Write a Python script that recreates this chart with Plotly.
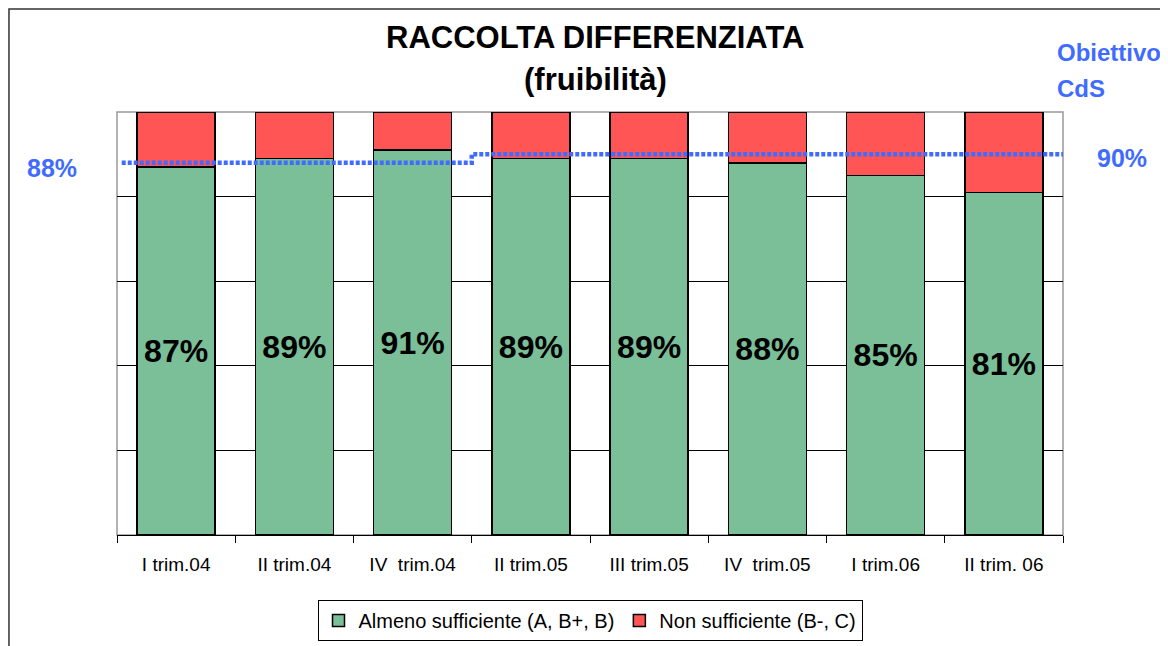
import plotly.graph_objects as go

# data
periodi = ["I trim.04", "II trim.04", "IV  trim.04", "II trim.05", "III trim.05",
           "IV  trim.05", "I trim.06", "II trim. 06"]
almeno_suff = [87, 89, 91, 89, 89, 88, 85, 81]
non_suff = [100 - v for v in almeno_suff]
obiettivo = [88, 88, 88, 90, 90, 90, 90, 90]

GREEN = "#7abf98"
RED = "#ff5555"
BLUE = "#3f6bff"

fig = go.Figure()

fig.add_trace(go.Bar(
    x=periodi, y=almeno_suff, name="Almeno sufficiente (A, B+, B)",
    marker=dict(color=GREEN, line=dict(color="black", width=1.5)),
    text=[f"{v}%" for v in almeno_suff], textposition="inside",
    insidetextanchor="middle",
    textfont=dict(family="Arial, Liberation Sans", size=32, color="black", weight="bold"),
    hoverinfo="skip",
))
fig.add_trace(go.Bar(
    x=periodi, y=non_suff, name="Non sufficiente (B-, C)",
    marker=dict(color=RED, line=dict(color="black", width=1.5)),
    hoverinfo="skip",
))

# target line (step between quarters), on an overlaid numeric axis
pos = list(range(len(obiettivo)))
fig.add_trace(go.Scatter(
    x=[-0.46] + pos + [7.53], y=[obiettivo[0]] + obiettivo + [obiettivo[-1]],
    xaxis="x2", mode="lines", line_shape="hvh",
    line=dict(color=BLUE, width=4.5, dash="4px,2px"),
    showlegend=False, cliponaxis=False, hoverinfo="skip",
))

# page body has an 8px margin, so the figure is a bit smaller than the window
fig.update_layout(
    width=1160, height=638,
    margin=dict(l=109, r=105, t=104, b=111),
    paper_bgcolor="white", plot_bgcolor="white",
    barmode="stack", bargap=0.34,
    font=dict(family="Arial, Liberation Sans", color="black"),
    xaxis=dict(
        type="category", showline=True, linecolor="black", linewidth=1,
        ticks="outside", tickson="boundaries", ticklen=7, tickcolor="black",
        tickfont=dict(size=19), ticklabelstandoff=12, showgrid=False,
        automargin=False,
    ),
    xaxis2=dict(overlaying="x", range=[-0.5, 7.5], visible=False),
    yaxis=dict(
        range=[0, 100], tickvals=[20, 40, 60, 80], showticklabels=False,
        showgrid=True, gridcolor="black", gridwidth=1, zeroline=False,
        showline=False, automargin=False,
    ),
    legend=dict(
        orientation="h", x=0.5, xanchor="center",
        yref="container", y=0.072, yanchor="top",
        bordercolor="black", borderwidth=1, font=dict(size=20),
        traceorder="normal", itemwidth=30,
    ),
    shapes=[
        dict(type="rect", xref="paper", yref="paper", x0=0, x1=1, y0=0, y1=1,
             line=dict(color="#999999", width=1.5), layer="below"),
        dict(type="rect", xref="paper", yref="paper", x0=-0.1142, x1=1.3,
             y0=-0.4, y1=1.2435, line=dict(color="#333333", width=1.5)),
    ],
    annotations=[
        dict(text="<b>RACCOLTA DIFFERENZIATA</b>", xref="paper", yref="paper",
             x=0.5055, y=1.175, xanchor="center", yanchor="middle",
             showarrow=False, font=dict(size=31, color="black")),
        dict(text="<b>(fruibilità)</b>", xref="paper", yref="paper",
             x=0.5055, y=1.0757, xanchor="center", yanchor="middle",
             showarrow=False, font=dict(size=31, color="black")),
        dict(text="<b>88%</b>", xref="paper", yref="paper", x=-0.0687, y=0.8676,
             xanchor="center", yanchor="middle", showarrow=False,
             font=dict(size=25, color=BLUE)),
        dict(text="<b>90%</b>", xref="paper", yref="paper", x=1.0624, y=0.891,
             xanchor="center", yanchor="middle", showarrow=False,
             font=dict(size=25, color=BLUE)),
        dict(text="<b>Obiettivo</b>", xref="paper", yref="paper", x=0.9915, y=1.1395,
             xanchor="left", yanchor="middle", showarrow=False,
             font=dict(size=24, color=BLUE)),
        dict(text="<b>CdS</b>", xref="paper", yref="paper", x=0.9915, y=1.0567,
             xanchor="left", yanchor="middle", showarrow=False,
             font=dict(size=24, color=BLUE)),
    ],
)

fig.write_html("out.html")
